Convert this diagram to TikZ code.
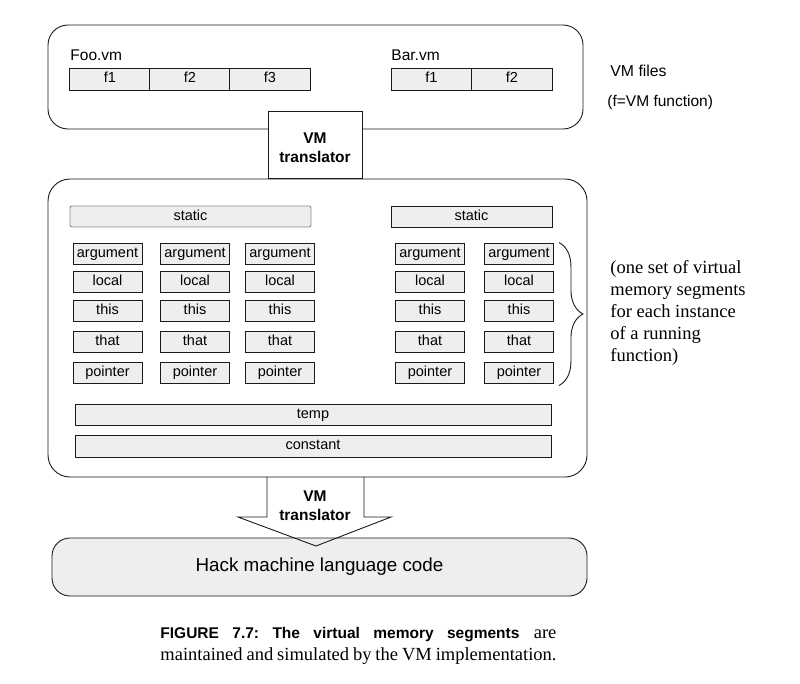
\documentclass[tikz,border=0pt]{standalone}
\usepackage{fontspec}
\setmainfont{Liberation Serif}
\setsansfont{Liberation Sans}
\usepackage{tikz}
\usetikzlibrary{decorations.pathreplacing}
\definecolor{segfill}{HTML}{EEEEEE}
\definecolor{ink}{HTML}{1A1A1A}
\newcommand\labfont{\sffamily\fontsize{14.5}{16}\selectfont}
\frenchspacing
\begin{document}
\begin{tikzpicture}[x=1pt,y=-1pt,line width=0.9pt,
  panel/.style = {draw=ink,rounded corners=20pt,fill=white},
  seg/.style = {draw=ink,fill=segfill,inner sep=0pt,minimum width=69pt,
        minimum height=21pt,text height=10pt,text depth=2.5pt,font=\labfont},
  cell/.style = {draw=ink,fill=segfill,inner sep=0pt,minimum width=80.5pt,
        minimum height=22pt,text height=10pt,text depth=2.5pt,font=\labfont},
  bar/.style = {draw=ink,fill=segfill,inner sep=0pt,minimum height=21pt,
        text height=10pt,text depth=2.5pt,font=\labfont},
  transl/.style = {font=\sffamily\bfseries\fontsize{15.5}{19}\selectfont,
        align=center,inner sep=0pt}]
 \useasboundingbox (0,0) rectangle (800,683);
 % VM files
 \node[panel,minimum width=535pt,minimum height=104pt] (files) at (315.5,77) {};
 \foreach \i/\lbl in {1/f1,2/f2,3/f3}
  \node[cell] (foo\i) at (30+80*\i,79) {\lbl};
 \foreach \i/\lbl in {1/f1,2/f2}
  \node[cell] (bar\i) at (351+80.5*\i,79) {\lbl};
 \node[anchor=base west,inner sep=0pt,font=\sffamily\fontsize{15.5}{18}\selectfont]
   (foolbl) at (70,60) {Foo.vm};
 \node[anchor=base west,inner sep=0pt,font=\sffamily\fontsize{15.5}{18}\selectfont]
   (barlbl) at (391,60) {Bar.vm};
 \node[anchor=base west,inner sep=0pt,font=\sffamily\fontsize{15.8}{18}\selectfont]
   (vmfiles) at (610,76) {VM files};
 \node[anchor=base west,inner sep=0pt,font=\sffamily\fontsize{15.5}{18}\selectfont]
   (fnote) at (607,106) {(f=VM function)};
 % memory segments
 \node[panel,minimum width=539pt,minimum height=298pt,rounded corners=22pt]
   (mem) at (317.5,328) {};
 \node[draw=ink,fill=white,minimum width=94pt,minimum height=67pt,inner sep=0pt]
   (tr1) at (315,144.5) {};
 \node[transl] (tr1txt) at (315,148) {VM\\translator};
 \node[bar,draw=black!45,rounded corners=2pt,minimum width=241pt]
   (stat1) at (190.5,216.5) {static};
 \node[bar,minimum width=161pt] (stat2) at (471.5,216.5) {static};
 \foreach \c/\xc in {1/107.5,2/195,3/280,4/430,5/519}
  \foreach \r/\yr/\lbl in {1/253.5/argument,2/282/local,3/311/this,
                           4/342/that,5/372.5/pointer}
   \node[seg] (s\c\r) at (\xc,\yr) {\lbl};
 \node[bar,minimum width=476pt] (temp) at (313,414.5) {temp};
 \node[bar,minimum width=476pt,minimum height=22pt] (const) at (313,446) {constant};
 \draw[ink,decorate,decoration={brace,amplitude=24pt}]
   ([xshift=5pt]s51.north east) -- ([xshift=5pt,yshift=-2pt]s55.south east);
 \node[anchor=north west,inner sep=0pt,align=left,
   font=\fontsize{18.5}{22}\selectfont] (note) at (610,260)
   {(one set of virtual\\memory segments\\for each instance\\of a running\\function)};
 % translation to Hack
 \node[draw=ink,fill=segfill,rounded corners=18pt,minimum width=535pt,
   minimum height=58pt,font=\sffamily\fontsize{18.8}{22}\selectfont]
   (hack) at (319.5,567) {Hack machine language code};
 \draw[ink,line join=miter] (267,477) -- (267,517) -- (238,517) -- (316,546)
   -- (391,517) -- (364,517) -- (364,477);
 \node[transl] (tr2txt) at (315,506) {VM\\translator};
 % caption
 \node[anchor=north west,inner sep=0pt,text width=396pt,align=justify,
   font=\fontsize{18.5}{22}\selectfont] (caption) at (160,627)
   {{\sffamily\bfseries\fontsize{15.5}{22}\selectfont FIGURE 7.7: The virtual
   memory segments} are\linebreak maintained and simulated by the VM
   implementation.};
\end{tikzpicture}
\end{document}
